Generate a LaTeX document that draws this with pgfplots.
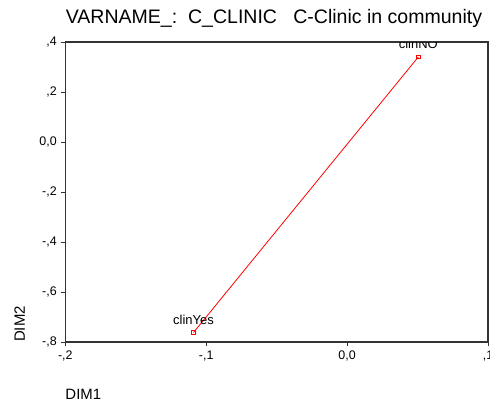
\documentclass[border=0pt]{standalone}
\usepackage{fontspec}
\setmainfont{Liberation Sans}
\usepackage{pgfplots}
\pgfplotsset{compat=1.18}
\begin{document}
\begin{tikzpicture}[x=1bp,y=1bp]
\begin{axis}[
    at={(0,0)}, anchor=south west,
    scale only axis,
    width=422.7bp, height=300bp,
    xmin=-0.2, xmax=0.1, ymin=-0.8, ymax=0.4,
    xtick={-0.2,-0.1,0,0.1},
    xticklabels={{-,2},{-,1},{0,0},{,1}},
    ytick={-0.8,-0.6,-0.4,-0.2,0,0.2,0.4},
    yticklabels={{-,8},{-,6},{-,4},{-,2},{0,0},{,2},{,4}},
    tick pos=left,
    tick align=outside,
    major tick length=4bp,
    axis line style={line width=1.6bp, color=black!80},
    every tick/.style={line width=1bp, color=black!80},
    ticklabel style={font=\fontsize{12.5}{14}\selectfont},
    xticklabel style={yshift=-1bp},
    yticklabel style={xshift=-1bp},
    clip=true,
]
\addplot[red, line width=0.8bp, mark=square, mark size=1.8bp,
         mark options={solid, line width=0.8bp}]
  coordinates {(-0.109,-0.762) (0.0505,0.340)};
\node[anchor=base, font=\fontsize{13}{15}\selectfont, inner sep=0pt]
  at (axis cs:-0.109,-0.762) [yshift=8.5bp] {clinYes};
\node[anchor=base, font=\fontsize{13}{15}\selectfont, inner sep=0pt]
  at (axis cs:0.0505,0.340) [yshift=8.5bp] {clinNO};
\end{axis}
\node[anchor=base, font=\fontsize{19.6}{22}\selectfont, inner sep=0pt]
  at (208.7,318.7) {VARNAME\_:\ \ C\_CLINIC\ \ \ C-Clinic in community};
\node[anchor=base west, font=\fontsize{15}{18}\selectfont, inner sep=0pt]
  at (0,-57) {DIM1};
\node[anchor=base west, rotate=90, font=\fontsize{15}{18}\selectfont, inner sep=0pt]
  at (-40.3,0) {DIM2};
\pgfresetboundingbox
\path[use as bounding box] (-65.3,-64) rectangle (424.7,342);
\end{tikzpicture}
\end{document}
